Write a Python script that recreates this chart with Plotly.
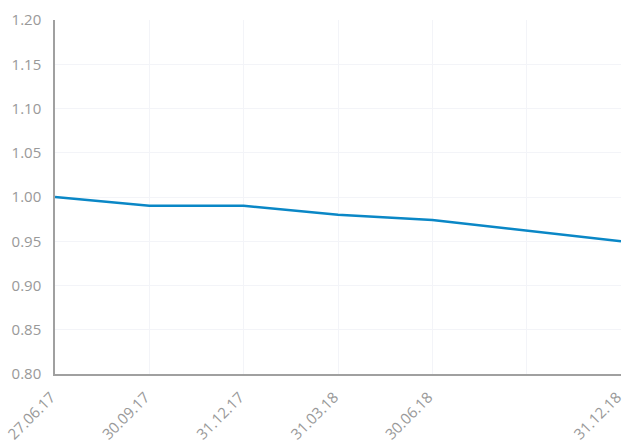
import plotly.graph_objects as go

# Data
dates = ["27.06.17", "30.09.17", "31.12.17", "31.03.18", "30.06.18", "31.12.18"]
quarter_index = [0, 1, 2, 3, 4, 6]
values = [1.00, 0.99, 0.99, 0.98, 0.974, 0.95]

tick_positions = [0, 1, 2, 3, 4, 5, 6]
tick_labels = ["27.06.17", "30.09.17", "31.12.17", "31.03.18", "30.06.18", "", "31.12.18"]

y_ticks = [0.80, 0.85, 0.90, 0.95, 1.00, 1.05, 1.10, 1.15, 1.20]

fig = go.Figure()
fig.add_trace(go.Scatter(
    x=quarter_index, y=values, text=dates, mode="lines",
    line=dict(color="#0a87c6", width=2.5),
    hovertemplate="%{text}: %{y:.2f}<extra></extra>",
))

fig.update_layout(
    width=624, height=445, autosize=False,
    margin=dict(l=55, r=3, t=20, b=71),
    paper_bgcolor="white", plot_bgcolor="white",
    showlegend=False,
    font=dict(family="Open Sans", color="#999999", size=15),
    xaxis=dict(
        range=[0, 6], tickmode="array", tickvals=tick_positions, ticktext=tick_labels,
        tickangle=-45, showgrid=True, gridcolor="#f3f4f8", gridwidth=1,
        showline=True, linecolor="#a0a0a0", linewidth=1.5,
        zeroline=False, ticks="", ticklabelstandoff=7, ticklabelshift=-4,
        automargin=False, ticklabeloverflow="allow",
        tickfont=dict(size=15, color="#999999"),
    ),
    yaxis=dict(
        range=[0.80, 1.20], tickmode="array", tickvals=y_ticks,
        ticktext=[f"{v:.2f}" for v in y_ticks],
        showgrid=True, gridcolor="#f3f4f8", gridwidth=1,
        showline=True, linecolor="#a0a0a0", linewidth=1.5,
        zeroline=False, ticks="", ticklabelstandoff=9,
        automargin=False, ticklabeloverflow="allow",
        tickfont=dict(size=15, color="#999999"),
    ),
)

fig.write_html(
    "out.html",
    config={"responsive": False, "displayModeBar": False},
    post_script="document.body.style.margin='0';document.body.style.overflow='hidden';",
)
